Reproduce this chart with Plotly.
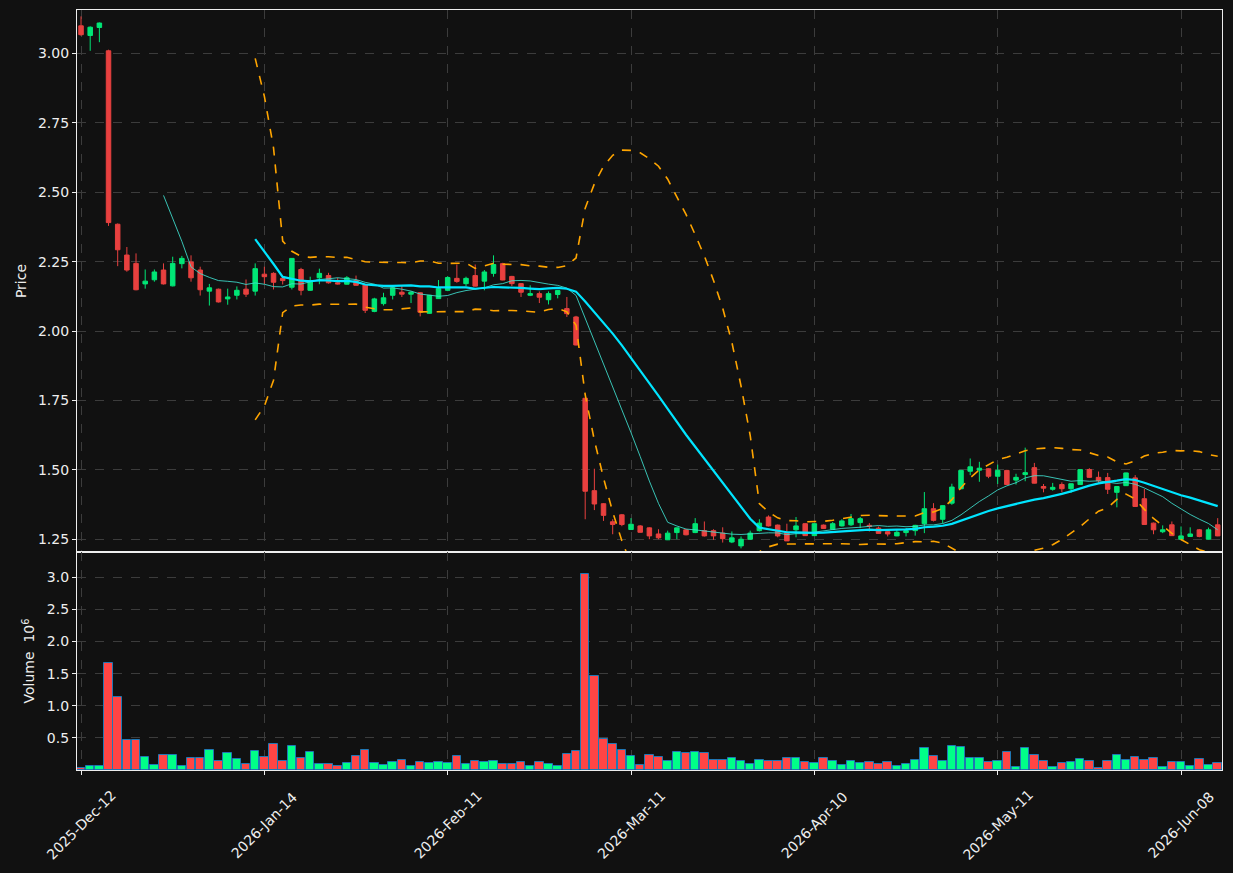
import plotly.graph_objects as go
import pandas as pd

# ---------------- data ----------------
opens = [3.100, 3.065, 3.094, 3.010, 2.385, 2.274, 2.244, 2.170, 2.185, 2.220,
         2.163, 2.243, 2.249, 2.220, 2.144, 2.151, 2.116, 2.129, 2.151, 2.144,
         2.205, 2.208, 2.190, 2.158, 2.222, 2.147, 2.192, 2.200, 2.174, 2.169,
         2.182, 2.168, 2.071, 2.099, 2.129, 2.140, 2.133, 2.138, 2.064, 2.117,
         2.147, 2.190, 2.171, 2.200, 2.180, 2.208, 2.243, 2.197, 2.171, 2.129,
         2.135, 2.113, 2.132, 2.081, 2.051, 1.758, 1.425, 1.378, 1.313, 1.338,
         1.285, 1.298, 1.291, 1.269, 1.248, 1.274, 1.284, 1.274, 1.281, 1.281,
         1.272, 1.240, 1.226, 1.250, 1.281, 1.330, 1.301, 1.274, 1.284, 1.306,
         1.263, 1.301, 1.286, 1.298, 1.302, 1.310, 1.300, 1.290, 1.277, 1.262,
         1.274, 1.281, 1.306, 1.360, 1.322, 1.380, 1.432, 1.495, 1.499, 1.504,
         1.477, 1.498, 1.463, 1.483, 1.508, 1.440, 1.430, 1.447, 1.432, 1.447,
         1.501, 1.473, 1.472, 1.419, 1.443, 1.471, 1.396, 1.308, 1.277, 1.302,
         1.250, 1.260, 1.284, 1.250, 1.302]
highs = [3.134, 3.098, 3.112, 3.014, 2.388, 2.303, 2.280, 2.222, 2.222, 2.244,
         2.268, 2.271, 2.273, 2.232, 2.170, 2.153, 2.153, 2.161, 2.186, 2.244,
         2.232, 2.212, 2.198, 2.263, 2.228, 2.196, 2.225, 2.210, 2.192, 2.198,
         2.200, 2.170, 2.120, 2.138, 2.162, 2.164, 2.144, 2.140, 2.130, 2.184,
         2.198, 2.240, 2.196, 2.240, 2.220, 2.273, 2.246, 2.199, 2.173, 2.165,
         2.143, 2.143, 2.147, 2.123, 2.055, 1.760, 1.504, 1.380, 1.322, 1.341,
         1.326, 1.301, 1.293, 1.286, 1.281, 1.292, 1.287, 1.326, 1.314, 1.286,
         1.293, 1.278, 1.260, 1.281, 1.322, 1.336, 1.303, 1.306, 1.330, 1.308,
         1.308, 1.303, 1.312, 1.322, 1.341, 1.330, 1.308, 1.296, 1.279, 1.284,
         1.290, 1.302, 1.420, 1.380, 1.372, 1.450, 1.500, 1.541, 1.529, 1.506,
         1.519, 1.500, 1.486, 1.580, 1.525, 1.449, 1.453, 1.455, 1.451, 1.502,
         1.506, 1.494, 1.489, 1.441, 1.490, 1.481, 1.431, 1.310, 1.300, 1.314,
         1.296, 1.293, 1.287, 1.292, 1.326]
lows = [3.064, 3.010, 3.041, 2.379, 2.234, 2.214, 2.147, 2.153, 2.178, 2.168,
        2.161, 2.226, 2.178, 2.128, 2.092, 2.103, 2.095, 2.114, 2.123, 2.128,
        2.170, 2.150, 2.168, 2.150, 2.129, 2.145, 2.169, 2.171, 2.168, 2.168,
        2.164, 2.065, 2.068, 2.092, 2.114, 2.123, 2.101, 2.053, 2.062, 2.116,
        2.144, 2.174, 2.162, 2.161, 2.147, 2.196, 2.183, 2.162, 2.123, 2.126,
        2.101, 2.096, 2.118, 2.051, 1.948, 1.322, 1.355, 1.316, 1.268, 1.297,
        1.284, 1.274, 1.250, 1.250, 1.247, 1.250, 1.264, 1.272, 1.260, 1.248,
        1.238, 1.236, 1.217, 1.248, 1.278, 1.296, 1.257, 1.244, 1.257, 1.262,
        1.262, 1.288, 1.284, 1.296, 1.298, 1.290, 1.278, 1.270, 1.260, 1.261,
        1.260, 1.263, 1.272, 1.314, 1.308, 1.374, 1.430, 1.481, 1.457, 1.470,
        1.449, 1.446, 1.447, 1.459, 1.451, 1.419, 1.425, 1.419, 1.417, 1.446,
        1.471, 1.453, 1.413, 1.365, 1.442, 1.367, 1.302, 1.268, 1.272, 1.262,
        1.249, 1.259, 1.257, 1.249, 1.261]
closes = [3.068, 3.095, 3.110, 2.391, 2.293, 2.220, 2.149, 2.180, 2.213, 2.170,
          2.244, 2.262, 2.192, 2.149, 2.156, 2.105, 2.123, 2.147, 2.133, 2.225,
          2.196, 2.176, 2.182, 2.262, 2.147, 2.182, 2.208, 2.174, 2.170, 2.192,
          2.165, 2.075, 2.116, 2.120, 2.156, 2.133, 2.140, 2.068, 2.129, 2.153,
          2.193, 2.179, 2.190, 2.162, 2.213, 2.240, 2.184, 2.171, 2.140, 2.135,
          2.122, 2.135, 2.146, 2.063, 1.950, 1.423, 1.377, 1.336, 1.303, 1.303,
          1.304, 1.275, 1.262, 1.255, 1.272, 1.291, 1.266, 1.306, 1.262, 1.262,
          1.252, 1.255, 1.250, 1.272, 1.308, 1.298, 1.262, 1.244, 1.298, 1.263,
          1.306, 1.289, 1.306, 1.316, 1.324, 1.324, 1.296, 1.271, 1.269, 1.275,
          1.281, 1.300, 1.360, 1.318, 1.371, 1.438, 1.498, 1.511, 1.506, 1.477,
          1.498, 1.447, 1.473, 1.490, 1.452, 1.434, 1.437, 1.432, 1.450, 1.501,
          1.473, 1.461, 1.430, 1.440, 1.489, 1.368, 1.303, 1.284, 1.284, 1.263,
          1.262, 1.269, 1.260, 1.284, 1.262]
# volume in millions of shares
volumes_m = [0.030, 0.060, 0.060, 1.665, 1.137, 0.469, 0.469, 0.200, 0.075, 0.230,
             0.230, 0.060, 0.184, 0.184, 0.310, 0.143, 0.267, 0.169, 0.096, 0.293,
             0.200, 0.400, 0.143, 0.370, 0.184, 0.278, 0.090, 0.090, 0.060, 0.107,
             0.215, 0.310, 0.107, 0.075, 0.122, 0.153, 0.060, 0.122, 0.107, 0.122,
             0.107, 0.215, 0.090, 0.138, 0.122, 0.138, 0.090, 0.090, 0.122, 0.060,
             0.122, 0.090, 0.060, 0.250, 0.293, 3.057, 1.463, 0.479, 0.400, 0.310,
             0.215, 0.075, 0.230, 0.200, 0.138, 0.278, 0.262, 0.278, 0.262, 0.153,
             0.153, 0.184, 0.138, 0.090, 0.153, 0.138, 0.138, 0.184, 0.184, 0.122,
             0.107, 0.184, 0.138, 0.075, 0.138, 0.107, 0.122, 0.090, 0.122, 0.060,
             0.090, 0.153, 0.340, 0.215, 0.138, 0.370, 0.355, 0.184, 0.184, 0.122,
             0.138, 0.278, 0.044, 0.340, 0.230, 0.138, 0.044, 0.107, 0.122, 0.169,
             0.138, 0.029, 0.138, 0.230, 0.153, 0.200, 0.153, 0.184, 0.044, 0.122,
             0.122, 0.060, 0.169, 0.075, 0.107]

tick_positions = [0, 20, 40, 60, 80, 100, 120]
tick_labels = ["2025-Dec-12", "2026-Jan-14", "2026-Feb-11", "2026-Mar-11",
               "2026-Apr-10", "2026-May-11", "2026-Jun-08"]
price_ticks = [1.25, 1.50, 1.75, 2.00, 2.25, 2.50, 2.75, 3.00]
volume_ticks = [0.5, 1.0, 1.5, 2.0, 2.5, 3.0]

# ---------------- derived indicators ----------------
idx = list(range(len(closes)))
cs = pd.Series(closes)
ma10 = cs.rolling(10).mean()
ma20 = cs.rolling(20).mean()
sd20 = cs.rolling(20).std(ddof=0)
bb_up = ma20 + 2 * sd20
bb_lo = ma20 - 2 * sd20

UP = "#00e676"
DOWN = "#e8403f"
VUP = "#00ff88"
VDOWN = "#ff4545"
BG = "#111111"
GRID = "#3c3c3c"
FG = "#eeeeee"
FONT = "DejaVu Sans"

vol_colors = [VUP if c >= o else VDOWN for o, c in zip(opens, closes)]

fig = go.Figure()
fig.add_trace(go.Candlestick(
    x=idx, open=opens, high=highs, low=lows, close=closes,
    increasing=dict(line=dict(color=UP, width=1), fillcolor=UP),
    decreasing=dict(line=dict(color=DOWN, width=1), fillcolor=DOWN),
    whiskerwidth=0, xaxis="x", yaxis="y", showlegend=False, hoverinfo="skip"))
fig.add_trace(go.Scatter(x=idx, y=ma10, mode="lines",
                         line=dict(color="rgba(64,224,208,0.85)", width=1),
                         xaxis="x", yaxis="y", showlegend=False))
fig.add_trace(go.Scatter(x=idx, y=ma20, mode="lines",
                         line=dict(color="#00e5ff", width=2.2),
                         xaxis="x", yaxis="y", showlegend=False))
for band in (bb_up, bb_lo):
    fig.add_trace(go.Scatter(x=idx, y=band, mode="lines",
                             line=dict(color="#ffa500", width=1.6, dash="dash"),
                             xaxis="x", yaxis="y", showlegend=False))
fig.add_trace(go.Bar(x=idx, y=volumes_m, marker=dict(color=vol_colors,
                     line=dict(color="#1f77b4", width=1)), width=0.92,
                     xaxis="x2", yaxis="y2", showlegend=False))

xr = [-0.44, 124.47]
split = 218 / 760
common_x = dict(range=xr, tickvals=tick_positions, showgrid=True, gridcolor=GRID,
                griddash="dash", gridwidth=1, showline=True, linecolor=FG,
                linewidth=1.2, mirror=True, zeroline=False, showticklabels=False)
fig.update_layout(
    width=1233, height=873,
    margin=dict(l=77, r=11, t=10, b=103),
    paper_bgcolor=BG, plot_bgcolor=BG,
    font=dict(family=FONT, color=FG, size=14),
    bargap=0,
    xaxis=dict(domain=[0, 1], anchor="y", rangeslider=dict(visible=False),
               ticks="", **common_x),
    xaxis2=dict(domain=[0, 1], anchor="y2", ticks="outside", ticklen=4,
                tickcolor=FG, **common_x),
    yaxis=dict(domain=[split, 1], anchor="x", range=[1.204, 3.157],
               tickvals=price_ticks, tickformat=".2f", ticks="outside",
               ticklen=4, tickcolor=FG, showgrid=True, gridcolor=GRID,
               griddash="dash", showline=True, linecolor=FG, linewidth=1.2,
               mirror=True, zeroline=False, automargin=False,
               title=dict(text="Price", standoff=8, font=dict(size=14))),
    yaxis2=dict(domain=[0, split], anchor="x2", range=[0, 3.393],
                tickvals=volume_ticks, ticktext=[f"{v:.1f}" for v in volume_ticks],
                ticks="outside", ticklen=4, tickcolor=FG, showgrid=True,
                gridcolor=GRID, griddash="dash", showline=True, linecolor=FG,
                linewidth=1.2, mirror=True, zeroline=False, automargin=False,
                title=dict(text="Volume  10<sup>6</sup>", standoff=8,
                           font=dict(size=14))),
)

for pos, lab in zip(tick_positions, tick_labels):
    fig.add_annotation(x=pos, xref="x2", y=-0.0724, yref="paper", text=lab,
                       showarrow=False, textangle=-45, xanchor="center",
                       yanchor="middle", font=dict(size=14, color=FG, family=FONT))

fig.write_html("out.html")
